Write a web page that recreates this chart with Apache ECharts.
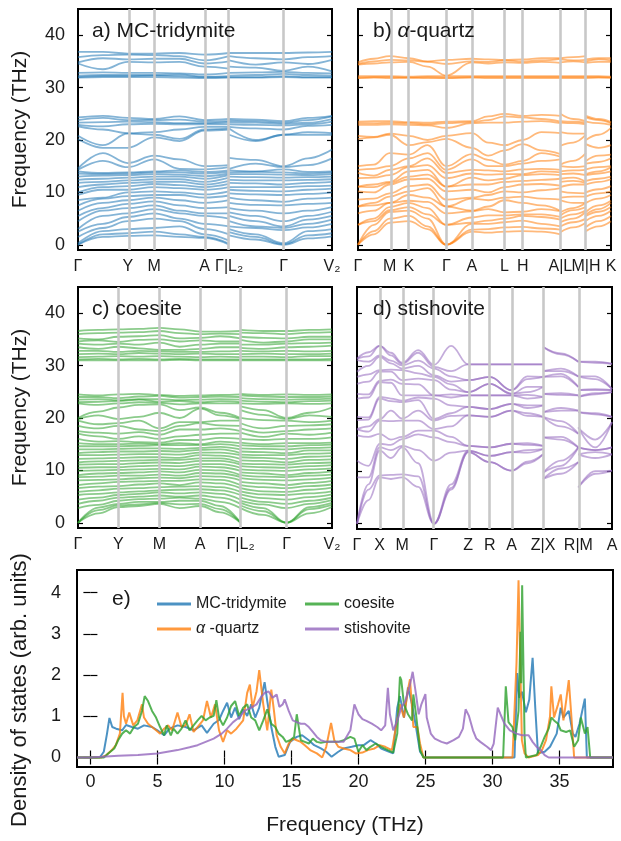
<!DOCTYPE html>
<html>
<head>
<meta charset="utf-8">
<script src="https://cdn.jsdelivr.net/npm/echarts@6/dist/echarts.min.js"></script>
<style>
  html, body { margin: 0; padding: 0; background: #fff; }
  #chart { width: 621px; height: 841px; }
</style>
</head>
<body>
<div id="chart"></div>
<script>
// ---------------------------------------------------------------
// Phonon dispersions (THz) of four SiO2 polymorphs + their DOS.
// Each *Freq array holds one row per sampled q-point along the
// path; row entries are the branch frequencies in ascending order.
// ---------------------------------------------------------------

// a) MC-tridymite : Γ–Y–M–A–Γ | L2–Γ–V2
const tridKnots = [0, 0.196, 0.30, 0.498, 0.595, 0.81, 1.0];
const tridKnotLabels = ['Γ', 'Y', 'M', 'A', 'Γ|L₂', 'Γ', 'V₂'];
const tridSegA = [0, 0.098, 0.196, 0.30, 0.40, 0.498, 0.595];
const tridSegB = [0.595, 0.70, 0.81, 0.905, 1.0];
const tridymiteFreq = [
  [0, 0, 0.3, 1.5, 2.5, 3.0, 4.5, 5.5, 6.5, 7.5, 8.5, 9.5, 10.0, 11.0, 11.8, 12.4, 13.0, 13.6, 14.0, 14.3, 14.6, 20.2, 20.8, 22.6, 22.9, 23.3, 23.8, 24.3, 31.9, 32.0, 32.3, 32.8, 34.6, 34.8, 35.8, 36.8],
  [1.5, 2.0, 2.6, 3.2, 4.0, 5.5, 6.5, 7.0, 8.0, 8.8, 9.0, 10.5, 11.0, 11.5, 12.0, 12.6, 13.2, 13.5, 13.7, 16.0, 17.5, 18.5, 19.0, 22.0, 22.6, 23.4, 24.2, 24.6, 32.0, 32.2, 32.4, 32.9, 33.5, 35.6, 36.2, 36.8],
  [1.7, 2.2, 3.0, 4.5, 5.3, 6.0, 7.0, 7.8, 8.5, 9.3, 10.0, 10.5, 11.2, 11.8, 12.3, 12.8, 13.3, 13.6, 13.8, 14.8, 15.6, 18.5, 21.2, 21.3, 23.0, 23.5, 23.8, 24.2, 32.0, 32.2, 32.4, 32.8, 34.9, 35.4, 36.3, 36.5],
  [1.8, 2.5, 3.2, 5.0, 6.0, 6.8, 7.5, 8.3, 9.0, 9.5, 10.2, 11.0, 11.6, 12.0, 12.5, 13.0, 13.5, 13.8, 14.0, 16.3, 17.0, 20.5, 21.0, 21.5, 23.1, 23.4, 23.8, 24.0, 32.0, 32.3, 32.4, 32.8, 34.8, 35.5, 36.2, 36.5],
  [1.5, 2.0, 3.5, 4.5, 5.0, 6.0, 6.5, 7.5, 8.5, 9.5, 10.0, 10.8, 11.4, 12.0, 12.5, 13.0, 13.4, 13.8, 14.2, 14.5, 16.3, 19.8, 20.2, 22.0, 23.0, 23.2, 23.9, 24.5, 31.9, 32.2, 32.5, 32.7, 34.9, 35.5, 36.0, 36.6],
  [1.3, 1.5, 2.0, 3.0, 4.0, 5.5, 6.0, 7.0, 8.0, 9.0, 9.6, 10.5, 11.0, 11.5, 12.0, 12.6, 13.1, 13.6, 13.9, 14.4, 15.0, 21.8, 22.0, 22.5, 23.0, 23.2, 23.5, 23.8, 31.8, 32.0, 32.1, 32.5, 34.0, 34.6, 35.2, 36.3],
  [0, 0.2, 0.8, 2.0, 3.5, 5.0, 6.0, 7.2, 8.5, 9.4, 10.2, 11.0, 11.6, 12.2, 12.8, 13.3, 13.6, 13.9, 14.2, 14.8, 15.2, 22.0, 22.2, 22.5, 23.0, 23.4, 23.6, 24.0, 31.9, 32.0, 32.2, 32.8, 33.6, 35.0, 36.0, 36.6],
  [1.8, 2.4, 3.0, 3.5, 4.5, 5.5, 6.2, 7.0, 8.0, 9.0, 9.8, 10.5, 11.0, 11.8, 12.4, 13.0, 13.5, 13.8, 14.2, 14.5, 16.6, 21.0, 22.2, 22.5, 23.0, 23.4, 23.7, 24.0, 31.9, 32.0, 32.3, 32.8, 34.0, 35.2, 36.0, 36.6],
  [1.0, 1.5, 2.0, 3.2, 3.5, 4.5, 5.5, 6.5, 7.6, 8.5, 9.6, 10.3, 11.0, 11.7, 12.3, 12.9, 13.5, 13.9, 14.0, 15.5, 16.2, 19.8, 20.0, 22.2, 22.9, 23.3, 23.6, 23.9, 31.9, 32.0, 32.4, 32.9, 33.8, 34.4, 35.6, 36.6],
  [0, 0.1, 0.3, 2.8, 3.2, 3.5, 4.5, 6.0, 7.5, 8.2, 9.5, 10.2, 11.0, 11.5, 12.3, 12.8, 13.4, 13.8, 14.4, 14.8, 15.0, 21.0, 21.0, 22.0, 22.8, 23.1, 23.3, 23.6, 32.0, 32.2, 32.6, 33.0, 33.2, 34.8, 35.4, 36.6],
  [1.2, 1.8, 2.6, 3.3, 4.0, 4.8, 5.5, 6.5, 7.8, 8.8, 9.7, 10.5, 11.2, 11.8, 12.4, 12.9, 13.3, 13.6, 13.9, 15.2, 16.5, 21.0, 21.5, 22.7, 23.0, 23.3, 23.8, 24.2, 31.9, 32.0, 32.4, 32.8, 34.0, 34.5, 35.8, 36.7],
  [1.6, 2.2, 3.0, 4.0, 4.8, 5.5, 6.3, 7.2, 8.0, 9.0, 10.0, 10.7, 11.3, 12.0, 12.5, 13.0, 13.5, 13.8, 14.0, 16.5, 18.2, 21.0, 21.3, 22.9, 23.5, 24.0, 24.5, 24.6, 31.9, 32.0, 32.3, 32.7, 33.1, 35.3, 36.0, 36.8]
];

// b) α-quartz : Γ–M–K–Γ–A–L–H–A | L–M | H–K
const quartzKnots = [0, 0.125, 0.201, 0.349, 0.450, 0.579, 0.651, 0.800, 0.901, 1.0];
const quartzKnotLabels = ['Γ', 'M', 'K', 'Γ', 'A', 'L', 'H', 'A|L', 'M|H', 'K'];
const quartzSegA = [0, 0.063, 0.125, 0.201, 0.275, 0.349, 0.450, 0.515, 0.579, 0.651, 0.725, 0.800];
const quartzSegB = [0.800, 0.851, 0.901];
const quartzSegC = [0.901, 0.951, 1.0];
const quartzFreq = [
  [0, 0, 0, 3.8, 3.8, 6.0, 7.3, 7.3, 8.6, 10.2, 11.1, 11.1, 12.7, 13.7, 14.3, 15.0, 20.2, 20.8, 22.9, 23.2, 23.5, 31.8, 31.9, 32.2, 34.4, 34.5, 34.8],
  [2.0, 2.6, 3.8, 4.5, 5.0, 6.5, 7.5, 8.0, 8.8, 10.0, 11.0, 11.5, 12.8, 13.2, 14.5, 15.3, 20.5, 20.6, 22.9, 23.2, 23.6, 31.9, 32.0, 32.2, 34.6, 35.0, 35.5],
  [4.2, 5.0, 6.3, 6.6, 7.2, 8.0, 8.0, 9.2, 9.8, 11.5, 11.8, 12.0, 13.3, 14.3, 15.0, 17.5, 21.0, 21.2, 23.0, 23.3, 23.6, 31.8, 32.0, 32.2, 34.8, 35.3, 36.0],
  [4.5, 5.5, 6.5, 7.2, 8.0, 8.4, 9.5, 10.2, 11.2, 12.5, 13.0, 14.0, 14.8, 15.0, 16.5, 17.2, 19.0, 20.8, 22.9, 23.2, 23.4, 31.9, 31.9, 32.1, 34.9, 35.2, 35.6],
  [3.0, 3.5, 5.0, 5.8, 7.0, 8.2, 9.0, 10.8, 11.5, 12.6, 13.4, 14.3, 15.2, 16.5, 17.5, 19.0, 19.6, 20.0, 22.8, 23.0, 23.3, 31.8, 32.0, 32.2, 34.0, 34.9, 35.0],
  [0, 0, 0, 3.8, 3.8, 6.0, 7.3, 7.3, 8.6, 10.2, 11.1, 11.1, 12.7, 13.7, 14.3, 15.0, 20.2, 20.8, 22.3, 23.2, 23.5, 31.8, 31.9, 32.2, 32.3, 34.5, 35.3],
  [2.5, 2.9, 4.0, 4.2, 5.2, 6.4, 6.5, 8.8, 9.0, 10.5, 11.5, 12.8, 13.6, 14.3, 16.3, 17.3, 18.5, 21.3, 23.2, 23.4, 23.6, 31.9, 32.0, 32.2, 34.8, 35.0, 35.5],
  [2.3, 3.0, 4.0, 4.6, 5.6, 6.8, 7.3, 8.5, 9.5, 10.0, 11.5, 12.3, 13.4, 14.2, 15.0, 16.2, 17.0, 19.5, 23.3, 23.8, 24.5, 31.8, 32.0, 32.2, 34.6, 34.9, 35.4],
  [2.5, 3.3, 4.3, 5.0, 5.6, 6.2, 8.5, 9.0, 10.2, 11.0, 12.0, 12.6, 13.5, 14.0, 15.0, 15.3, 18.0, 19.0, 23.3, 24.5, 25.0, 31.8, 32.0, 32.2, 34.8, 35.2, 35.3],
  [2.6, 3.4, 4.6, 5.5, 5.8, 6.3, 8.0, 9.2, 10.0, 11.5, 12.2, 13.3, 13.5, 14.4, 15.5, 16.0, 19.2, 20.0, 23.5, 24.3, 24.6, 31.8, 32.0, 32.2, 34.7, 35.0, 35.4],
  [2.5, 3.1, 4.0, 5.3, 5.8, 6.8, 7.5, 8.8, 10.4, 11.6, 12.4, 13.5, 14.0, 14.5, 16.0, 17.5, 18.0, 21.5, 23.6, 24.0, 24.8, 31.8, 32.0, 32.2, 34.9, 35.2, 35.6],
  [2.0, 2.9, 3.5, 4.8, 5.3, 6.4, 6.5, 8.6, 10.8, 11.3, 12.6, 13.3, 13.8, 14.3, 16.3, 16.8, 17.3, 21.3, 23.2, 23.5, 24.6, 31.8, 32.0, 32.2, 34.7, 35.5, 35.6],
  [2.4, 3.5, 4.3, 5.0, 5.6, 6.2, 8.5, 9.0, 10.2, 11.0, 12.0, 12.6, 13.5, 14.0, 15.0, 15.3, 18.9, 21.5, 23.3, 23.6, 25.0, 31.8, 32.0, 32.2, 34.8, 35.4, 35.6],
  [3.3, 4.3, 5.0, 5.8, 6.6, 7.0, 8.0, 9.2, 9.9, 11.5, 12.2, 12.8, 13.6, 14.2, 14.8, 16.0, 19.5, 21.2, 23.2, 23.5, 24.0, 31.8, 32.0, 32.2, 35.0, 35.2, 35.8],
  [4.2, 5.0, 6.3, 6.6, 7.2, 8.0, 8.0, 9.2, 9.8, 11.5, 11.8, 12.0, 13.3, 14.3, 15.0, 17.5, 21.0, 21.2, 23.0, 23.3, 23.6, 31.8, 32.0, 32.2, 34.8, 35.3, 36.0],
  [2.6, 3.4, 4.6, 5.5, 5.8, 6.3, 8.0, 9.2, 10.0, 11.5, 12.2, 13.3, 13.5, 14.4, 15.5, 16.0, 19.2, 20.0, 23.5, 24.3, 24.6, 31.8, 32.0, 32.2, 34.7, 35.0, 35.4],
  [3.5, 4.5, 5.5, 6.3, 6.8, 7.5, 8.8, 9.8, 10.6, 12.0, 12.6, 13.6, 14.0, 14.8, 15.8, 17.0, 18.5, 21.0, 23.2, 23.8, 24.0, 31.9, 32.0, 32.2, 34.9, 35.4, 35.6],
  [4.5, 5.5, 6.5, 7.2, 8.0, 8.4, 9.5, 10.2, 11.2, 12.5, 13.0, 14.0, 14.8, 15.0, 16.5, 17.2, 19.0, 22.3, 22.9, 23.2, 23.4, 31.9, 31.9, 32.1, 34.9, 35.2, 35.6]
];

// c) coesite : Γ–Y–M–A–Γ | L2–Γ–V2
const coesKnots = [0, 0.159, 0.321, 0.481, 0.640, 0.821, 1.0];
const coesKnotLabels = ['Γ', 'Y', 'M', 'A', 'Γ|L₂', 'Γ', 'V₂'];
const coesSegA = [0, 0.08, 0.159, 0.24, 0.321, 0.40, 0.481, 0.56, 0.640];
const coesSegB = [0.640, 0.73, 0.821, 0.91, 1.0];
const coesiteFreq = [
  [0, 0, 0, 2.8, 3.6, 4.4, 5.3, 5.9, 6.6, 7.2, 8.1, 8.7, 9.1, 9.9, 10.5, 11.1, 11.5, 12.2, 12.9, 13.3, 14.0, 14.6, 15.2, 16.0, 17.0, 17.5, 18.5, 19.5, 19.8, 20.0, 22.8, 23.0, 23.5, 24.0, 24.5, 31.0, 31.2, 31.6, 32.2, 32.8, 33.5, 34.2, 34.6, 35.2, 36.0, 36.6],
  [1.8, 2.4, 2.9, 3.4, 4.2, 4.8, 5.5, 6.2, 6.9, 7.5, 8.2, 8.8, 9.4, 10.0, 10.6, 11.2, 11.7, 12.3, 12.9, 13.5, 14.0, 14.6, 15.0, 15.5, 16.5, 17.2, 18.0, 18.8, 20.5, 21.2, 22.5, 23.1, 23.6, 24.0, 24.3, 31.0, 31.3, 31.7, 32.3, 32.8, 33.2, 34.0, 34.8, 35.0, 36.2, 36.8],
  [3.0, 3.3, 3.6, 4.2, 4.8, 5.3, 5.8, 6.5, 7.0, 7.8, 8.3, 9.0, 9.5, 10.1, 10.6, 11.2, 11.8, 12.4, 13.0, 13.6, 14.1, 14.6, 15.0, 15.6, 16.0, 17.0, 18.5, 19.0, 19.8, 22.0, 22.8, 23.2, 23.4, 23.8, 24.5, 31.0, 31.2, 31.8, 32.2, 32.6, 33.6, 34.2, 34.5, 35.5, 36.3, 36.9],
  [3.2, 3.5, 4.0, 4.5, 5.0, 5.5, 6.0, 6.6, 7.3, 7.9, 8.5, 9.0, 9.6, 10.2, 10.8, 11.4, 11.9, 12.5, 13.1, 13.6, 14.2, 14.7, 15.1, 15.4, 16.5, 17.3, 17.8, 19.5, 20.2, 22.5, 23.0, 23.5, 23.6, 24.1, 24.6, 31.0, 31.3, 31.7, 32.4, 32.8, 33.3, 34.0, 34.9, 35.6, 36.4, 37.0],
  [3.6, 3.8, 4.0, 4.6, 5.2, 5.8, 6.2, 6.8, 7.5, 8.0, 8.6, 9.2, 9.8, 10.3, 10.9, 11.5, 12.0, 12.5, 13.1, 13.7, 14.2, 14.8, 15.0, 15.3, 16.0, 16.8, 17.5, 18.0, 21.0, 22.6, 22.9, 23.1, 23.6, 24.2, 24.4, 31.0, 31.2, 31.8, 32.3, 32.7, 33.0, 34.4, 35.0, 35.8, 36.6, 37.2],
  [2.8, 3.5, 4.2, 4.8, 5.0, 5.6, 6.3, 6.9, 7.2, 8.0, 8.5, 9.0, 9.6, 10.2, 10.8, 11.4, 12.0, 12.4, 13.0, 13.6, 14.1, 14.8, 15.2, 15.8, 16.5, 17.8, 18.5, 19.2, 20.0, 21.5, 22.6, 23.2, 23.4, 23.9, 24.2, 31.1, 31.3, 31.7, 32.2, 32.6, 33.0, 33.6, 34.6, 35.2, 36.2, 36.9],
  [3.2, 3.6, 4.2, 4.6, 5.2, 5.8, 6.4, 7.0, 7.7, 8.3, 8.9, 9.5, 10.1, 10.7, 11.2, 11.8, 12.3, 12.9, 13.4, 13.9, 14.3, 14.8, 15.0, 15.8, 16.8, 17.8, 19.0, 19.2, 21.8, 22.0, 22.8, 23.0, 23.5, 24.0, 24.3, 31.0, 31.2, 31.6, 32.3, 32.6, 33.2, 34.0, 34.8, 35.3, 36.0, 36.5],
  [2.0, 2.6, 3.2, 4.0, 4.8, 5.5, 6.2, 6.8, 7.5, 8.2, 8.8, 9.4, 10.0, 10.6, 11.2, 11.8, 12.3, 12.8, 13.4, 14.0, 14.5, 15.0, 15.5, 16.2, 17.0, 18.0, 18.6, 19.5, 20.5, 21.0, 22.8, 23.2, 23.6, 24.1, 24.4, 31.0, 31.2, 31.7, 32.2, 32.7, 33.5, 34.2, 34.6, 35.6, 36.1, 36.5],
  [0, 0, 0, 2.8, 3.6, 4.4, 5.3, 5.9, 6.6, 7.2, 8.1, 8.7, 9.1, 9.9, 10.5, 11.1, 11.5, 12.2, 12.9, 13.3, 14.0, 14.6, 15.2, 16.0, 17.0, 17.5, 18.5, 19.5, 19.8, 20.0, 22.8, 23.0, 23.5, 24.0, 24.5, 31.0, 31.2, 31.6, 32.2, 32.8, 33.5, 34.2, 34.6, 35.2, 36.0, 36.6],
  [2.8, 3.3, 3.8, 4.2, 4.8, 5.4, 6.0, 6.6, 7.2, 7.8, 8.5, 9.1, 9.6, 10.2, 10.8, 11.3, 11.9, 12.5, 13.0, 13.6, 14.2, 14.8, 15.3, 16.0, 17.2, 18.0, 19.0, 20.0, 21.5, 22.2, 22.8, 23.3, 23.8, 24.3, 24.6, 31.0, 31.2, 31.7, 32.2, 32.8, 33.4, 34.0, 34.9, 35.5, 36.3, 36.8],
  [1.5, 2.2, 2.8, 3.5, 4.0, 4.7, 5.4, 6.0, 6.8, 7.5, 8.2, 8.8, 9.4, 10.0, 10.6, 11.2, 11.8, 12.4, 12.9, 13.5, 14.1, 14.6, 15.0, 15.8, 16.4, 17.2, 18.0, 19.6, 20.6, 21.5, 22.7, 23.1, 23.6, 24.1, 24.4, 31.0, 31.2, 31.7, 32.3, 32.7, 33.2, 34.0, 34.4, 35.3, 36.2, 36.6],
  [0, 0, 0, 2.8, 3.6, 4.4, 5.3, 5.9, 6.6, 7.2, 8.1, 8.7, 9.1, 9.9, 10.5, 11.1, 11.5, 12.2, 12.9, 13.3, 14.0, 14.6, 15.2, 16.0, 17.0, 17.5, 18.5, 19.5, 19.8, 20.0, 22.8, 23.0, 23.5, 24.0, 24.5, 31.0, 31.2, 31.6, 32.2, 32.8, 33.5, 34.2, 34.6, 35.2, 36.0, 36.6],
  [1.8, 2.6, 3.0, 3.6, 4.2, 4.9, 5.6, 6.3, 7.0, 7.6, 8.3, 9.0, 9.5, 10.2, 10.8, 11.4, 12.0, 12.6, 13.2, 13.8, 14.3, 14.8, 15.2, 16.0, 16.8, 17.8, 18.6, 19.2, 20.5, 21.0, 22.7, 23.2, 23.6, 24.0, 24.4, 31.0, 31.2, 31.8, 32.2, 32.7, 33.6, 34.3, 35.0, 35.5, 36.3, 36.8],
  [3.0, 3.4, 3.8, 4.3, 4.8, 5.4, 6.0, 6.7, 7.3, 8.0, 8.6, 9.2, 9.8, 10.4, 11.0, 11.5, 12.1, 12.7, 13.3, 13.8, 14.4, 14.9, 15.3, 16.3, 17.2, 18.0, 18.8, 19.5, 20.2, 22.0, 22.8, 23.3, 23.7, 24.1, 24.5, 31.0, 31.3, 31.8, 32.3, 32.8, 33.8, 34.4, 35.0, 35.5, 36.4, 36.9]
];

// d) stishovite : Γ–X–M–Γ–Z–R–A–Z | X–R | M–A
const stishKnots = [0, 0.089, 0.177, 0.302, 0.436, 0.521, 0.606, 0.730, 0.868, 1.0];
const stishKnotLabels = ['Γ', 'X', 'M', 'Γ', 'Z', 'R', 'A', 'Z|X', 'R|M', 'A'];
const stishSegA = [0, 0.045, 0.089, 0.133, 0.177, 0.24, 0.302, 0.369, 0.436, 0.521, 0.606, 0.668, 0.730];
const stishSegB = [0.730, 0.80, 0.868];
const stishSegC = [0.868, 0.934, 1.0];
const stishoviteFreq = [
  [0, 0, 0, 8.8, 12.0, 16.8, 18.0, 18.0, 19.7, 20.3, 23.8, 24.7, 26.6, 27.9, 28.9, 31.1, 31.4, 31.4],
  [4.5, 6.5, 7.5, 8.8, 11.0, 16.5, 17.5, 18.5, 19.8, 20.2, 24.0, 24.6, 27.0, 28.4, 30.0, 30.8, 31.8, 32.6],
  [8.8, 9.2, 13.9, 14.5, 15.2, 17.1, 19.6, 19.9, 23.8, 24.1, 26.9, 27.2, 28.9, 29.2, 31.7, 32.0, 33.8, 33.8],
  [8.5, 9.3, 12.5, 14.0, 15.0, 16.0, 19.5, 21.5, 23.3, 23.8, 26.8, 27.4, 28.9, 29.3, 30.5, 31.0, 32.0, 32.5],
  [8.8, 9.4, 14.5, 14.8, 16.1, 16.5, 19.6, 20.0, 23.1, 23.4, 24.4, 26.6, 27.3, 29.2, 29.5, 30.1, 30.4, 30.6],
  [7.0, 9.0, 11.5, 14.0, 17.0, 17.7, 19.6, 21.5, 23.5, 24.0, 24.4, 26.5, 27.6, 28.6, 30.0, 31.0, 32.5, 33.0],
  [0, 0, 0, 12.0, 16.4, 17.7, 18.0, 19.6, 19.9, 23.8, 24.4, 24.4, 27.3, 27.9, 28.2, 29.5, 29.8, 30.2],
  [6.5, 6.8, 7.5, 13.5, 15.5, 16.5, 18.5, 20.5, 21.0, 22.5, 24.0, 24.6, 25.5, 26.5, 27.0, 28.0, 29.0, 33.8],
  [13.6, 13.6, 13.9, 13.9, 14.8, 14.8, 20.6, 20.6, 22.2, 22.2, 24.4, 24.4, 25.0, 25.0, 27.3, 27.3, 30.3, 30.3],
  [11.7, 11.7, 12.9, 12.9, 14.5, 14.5, 20.3, 20.3, 21.8, 21.8, 24.4, 24.4, 26.6, 26.6, 27.9, 27.9, 30.3, 30.3],
  [10.1, 10.1, 13.6, 13.6, 15.2, 15.2, 21.5, 21.5, 22.8, 22.8, 24.4, 24.4, 24.7, 24.7, 25.4, 25.4, 30.3, 30.3],
  [11.5, 11.8, 13.5, 14.0, 15.0, 15.3, 20.5, 21.0, 22.0, 22.5, 23.8, 24.5, 25.0, 26.0, 27.5, 28.0, 30.3, 30.3],
  [13.2, 13.2, 14.2, 14.2, 14.8, 14.8, 20.3, 20.3, 22.5, 22.5, 24.1, 24.1, 26.0, 26.0, 27.9, 27.9, 30.3, 30.3],
  [8.5, 8.5, 9.7, 9.7, 16.4, 16.4, 20.3, 20.3, 21.2, 21.2, 24.7, 24.7, 27.9, 27.9, 29.0, 29.0, 33.6, 33.6],
  [9.5, 10.5, 11.0, 12.0, 16.0, 16.5, 18.5, 19.5, 21.5, 22.0, 24.5, 24.8, 28.0, 28.5, 29.0, 29.5, 32.2, 32.4],
  [11.7, 11.7, 14.5, 14.5, 14.5, 14.5, 17.1, 17.1, 21.5, 21.5, 24.4, 24.4, 26.0, 26.0, 28.0, 28.0, 30.8, 30.8],
  [6.9, 6.9, 13.2, 13.2, 14.5, 14.5, 18.3, 18.3, 21.2, 21.2, 24.1, 24.1, 25.4, 25.4, 28.0, 28.0, 30.8, 30.8],
  [9.5, 10.0, 12.5, 13.6, 14.0, 14.0, 14.5, 16.0, 20.8, 21.0, 24.6, 24.8, 25.4, 25.6, 27.5, 28.0, 30.6, 30.8],
  [10.1, 10.1, 13.2, 13.2, 14.5, 14.5, 19.3, 19.3, 20.3, 20.3, 25.0, 25.0, 25.4, 25.4, 25.6, 25.6, 30.4, 30.4]
];

// e) phonon density of states, [frequency (THz), DOS (arb. units)]
const dosTridymite = [[-1,0],[0.7,0],[0.74,0.02],[1.0,0.14],[1.24,0.58],[1.42,0.96],[1.63,0.74],[1.92,0.70],[2.37,0.66],[2.66,0.79],[3.1,0.74],[3.55,0.70],[4.0,0.78],[4.6,0.74],[5.0,0.66],[5.5,0.54],[5.9,0.70],[6.5,0.78],[7.1,0.74],[7.7,0.66],[8.3,0.78],[8.7,0.60],[9.2,0.82],[9.6,0.91],[9.9,1.13],[10.2,1.33],[10.5,0.97],[10.8,1.21],[11.1,0.93],[11.4,1.17],[11.7,1.01],[12.0,1.29],[12.3,0.97],[12.6,1.21],[13.0,1.83],[13.2,1.37],[13.5,0.74],[13.8,0.26],[14.05,0.02],[14.5,0.06],[14.9,0.38],[15.4,0.50],[15.8,0.54],[16.3,0.42],[16.7,0.30],[17.2,0.22],[17.6,0.14],[18.0,0.02],[18.5,0.14],[18.9,0.22],[19.5,0.26],[20.0,0.30],[20.4,0.30],[20.9,0.42],[21.3,0.34],[21.7,0.22],[22.3,0.14],[22.6,0.10],[22.9,1.21],[23.1,1.49],[23.4,0.97],[23.7,1.70],[24.0,1.29],[24.3,0.74],[24.6,0.14],[24.9,0],[31.65,0],[31.85,2.05],[32.0,1.45],[32.2,1.6],[32.5,1.1],[32.75,1.4],[33.0,2.42],[33.2,1.2],[33.4,0.10],[33.9,0.14],[34.3,0.26],[34.8,0.58],[35.1,1.21],[35.3,0.97],[35.7,1.13],[36.0,0.58],[36.2,0.50],[36.5,0.82],[36.9,1.43],[37.05,0],[39,0]];
const dosQuartz = [[-1,0],[0.8,0],[1.2,0.06],[1.6,0.18],[1.9,0.30],[2.2,0.58],[2.4,1.57],[2.5,1.0],[2.66,0.82],[2.9,1.09],[3.2,0.78],[3.5,0.90],[3.85,1.29],[4.0,0.97],[4.3,0.82],[4.6,0.74],[4.9,0.66],[5.2,0.58],[5.5,0.70],[5.8,0.78],[6.1,0.66],[6.5,1.09],[6.8,0.74],[7.1,0.78],[7.4,1.05],[7.7,0.62],[8.1,0.78],[8.4,0.90],[8.7,1.37],[9.0,0.97],[9.3,1.29],[9.6,0.66],[9.9,0.38],[10.2,0.66],[10.5,0.58],[10.9,0.70],[11.4,0.90],[11.7,1.57],[11.9,1.77],[12.1,1.21],[12.4,1.61],[12.6,2.12],[12.9,1.29],[13.2,0.66],[13.5,1.65],[13.7,1.13],[13.9,0.54],[14.2,0.26],[14.5,0.10],[14.8,0.34],[15.1,0.46],[15.4,0.42],[15.7,0.38],[16.0,0.30],[16.4,0.18],[16.9,0.10],[17.3,0],[17.6,0.26],[17.96,0.84],[18.2,0.42],[18.5,0.26],[18.9,0.22],[19.4,0.18],[19.8,0.10],[20.3,0.12],[20.7,0.18],[21.2,0.22],[21.6,0.30],[22.0,0.26],[22.5,0.18],[22.8,0.74],[23.1,1.29],[23.4,0.97],[23.7,1.65],[23.85,1.90],[24.1,0.74],[24.4,0.74],[24.6,0.34],[24.85,0],[31.5,0],[31.8,2.3],[31.95,4.3],[32.2,0.42],[32.4,0.10],[32.7,0],[33.4,0.06],[33.7,0.18],[34.0,0.42],[34.3,1.0],[34.4,1.73],[34.6,0.97],[34.9,1.29],[35.1,1.53],[35.3,0.90],[35.5,1.37],[35.7,1.88],[35.9,0.97],[36.1,0],[39,0]];
const dosCoesite = [[-1,0],[1.0,0],[1.33,0.10],[1.78,0.22],[2.07,0.42],[2.37,0.58],[2.66,0.66],[2.96,0.58],[3.25,0.74],[3.55,0.82],[3.85,1.13],[4.05,1.49],[4.3,1.37],[4.6,1.13],[4.9,0.97],[5.2,0.74],[5.5,0.54],[5.7,0.78],[6.0,0.54],[6.2,0.70],[6.5,0.58],[6.8,0.70],[7.1,0.90],[7.4,0.66],[7.7,0.78],[8.0,0.90],[8.3,1.01],[8.6,0.90],[8.9,0.97],[9.2,1.01],[9.4,1.39],[9.6,0.97],[9.9,0.78],[10.2,0.97],[10.5,1.25],[10.8,1.37],[11.1,1.01],[11.4,1.21],[11.7,1.29],[12.0,0.97],[12.3,0.90],[12.6,0.66],[12.9,0.90],[13.2,1.17],[13.5,0.82],[13.8,0.74],[14.05,0.58],[14.35,0.50],[14.6,0.38],[14.9,0.42],[15.2,0.50],[15.4,1.05],[15.7,0.42],[16.0,0.38],[16.3,0.34],[16.6,0.46],[16.9,0.38],[17.2,0.36],[17.6,0.38],[18.0,0.38],[18.5,0.38],[18.9,0.42],[19.4,0.50],[19.7,0.46],[20.0,0.14],[20.3,0.30],[20.6,0.18],[20.9,0.26],[21.3,0.34],[21.7,0.26],[22.2,0.18],[22.6,0.12],[22.9,0.58],[23.1,1.96],[23.2,1.88],[23.4,1.29],[23.7,1.05],[24.0,0.90],[24.1,1.53],[24.3,1.05],[24.6,0.18],[24.85,0],[30.8,0],[31.0,1.73],[31.2,0.86],[31.5,0.74],[31.7,0.42],[31.8,0.38],[31.95,1.13],[32.1,3.05],[32.15,1.8],[32.22,4.18],[32.4,0.5],[32.5,0],[33.3,0.06],[33.6,0.26],[33.9,0.50],[34.2,0.70],[34.4,0.97],[34.6,0.90],[34.9,0.82],[35.1,0.66],[35.5,0.62],[35.8,0.66],[36.1,0.26],[36.4,0.42],[36.6,0.97],[36.9,0.58],[37.1,0.74],[37.3,0],[39,0]];
const dosStishovite = [[-1,0],[0,0],[2.07,0.04],[3.55,0.06],[5.0,0.10],[6.5,0.18],[7.4,0.25],[8.0,0.30],[8.6,0.38],[9.2,0.46],[9.8,0.58],[10.2,0.70],[10.65,0.86],[11.1,0.97],[11.5,1.13],[12.0,1.21],[12.4,1.29],[12.7,1.45],[13.0,1.57],[13.3,1.60],[13.6,1.45],[13.75,1.49],[13.9,1.53],[14.1,1.23],[14.35,1.29],[14.5,1.41],[14.8,1.13],[15.1,0.90],[15.4,0.86],[15.7,0.82],[16.0,0.82],[16.3,0.74],[16.6,0.62],[16.9,0.50],[17.2,0.42],[17.6,0.38],[18.0,0.38],[18.5,0.38],[18.9,0.38],[19.4,0.66],[19.7,1.29],[20.0,1.05],[20.3,0.93],[20.6,0.89],[21.0,0.82],[21.4,0.74],[21.7,0.66],[22.0,0.78],[22.2,1.69],[22.35,1.05],[22.6,0.66],[22.9,0.89],[23.2,1.21],[23.5,1.37],[23.8,1.69],[24.05,2.08],[24.3,1.53],[24.5,1.05],[24.7,1.29],[25.0,1.54],[25.1,0.97],[25.4,0.58],[25.7,0.46],[26.2,0.38],[26.6,0.34],[27.1,0.42],[27.5,0.50],[27.8,0.70],[28.0,1.17],[28.25,1.01],[28.55,0.66],[28.8,0.46],[29.1,0.38],[29.6,0.26],[29.9,0.18],[30.1,0.34],[30.4,1.21],[30.6,1.05],[30.9,0.82],[31.3,0.66],[31.8,0.58],[32.2,0.54],[32.7,0.54],[33.0,0.38],[33.3,0.26],[33.6,0.18],[33.9,0.06],[34.2,0],[39,0]];

const freqTicks = [0, 10, 20, 30, 40];
const dosXTicks = [0, 5, 10, 15, 20, 25, 30, 35];
const dosYTicks = [0, 1, 2, 3, 4];

// ---------------------------------------------------------------
const FONT = '"Liberation Sans", Arial, Helvetica, sans-serif';
const INK = '#1a1a1a';
const BLUE = '#1f77b4', ORANGE = '#ff7f0e', GREEN = '#2ca02c', PURPLE = '#9467bd';
function rgba(hex, a) {
  const n = parseInt(hex.slice(1), 16);
  return `rgba(${n >> 16},${(n >> 8) & 255},${n & 255},${a})`;
}

const bandPanels = [
  { knots: tridKnots, labels: tridKnotLabels, segs: [tridSegA, tridSegB], freq: tridymiteFreq, color: BLUE, yLabels: true,
    grid: { left: 78, top: 9, width: 254, height: 241 } },
  { knots: quartzKnots, labels: quartzKnotLabels, segs: [quartzSegA, quartzSegB, quartzSegC], freq: quartzFreq, color: ORANGE, yLabels: false,
    grid: { left: 358, top: 9, width: 253, height: 241 } },
  { knots: coesKnots, labels: coesKnotLabels, segs: [coesSegA, coesSegB], freq: coesiteFreq, color: GREEN, yLabels: true,
    grid: { left: 78, top: 287, width: 254, height: 241 } },
  { knots: stishKnots, labels: stishKnotLabels, segs: [stishSegA, stishSegB, stishSegC], freq: stishoviteFreq, color: PURPLE, yLabels: false,
    grid: { left: 357, top: 287, width: 255, height: 242 } }
];
const dosGrid = { left: 77, top: 570, width: 536, height: 197 };

const grid = [], xAxis = [], yAxis = [], series = [];
const frame = { show: true, borderColor: '#000', borderWidth: 2, backgroundColor: 'rgba(0,0,0,0)' };
const labelStyle = { color: INK, fontFamily: FONT };
const tickStyle = { color: '#000', width: 1.2 };

bandPanels.forEach((p, gi) => {
  grid.push(Object.assign({}, frame, p.grid));
  const xi = xAxis.length;
  xAxis.push({
    gridIndex: gi, type: 'value', min: 0, max: 1,
    axisLine: { show: false }, axisTick: { show: false }, splitLine: { show: false },
    axisLabel: Object.assign({
      customValues: p.knots, fontSize: 16, margin: 9, hideOverlap: false,
      formatter: v => {
        const k = p.knots.findIndex(t => Math.abs(t - v) < 1e-6);
        return k >= 0 ? p.labels[k] : '';
      }
    }, labelStyle)
  });
  const yl = yAxis.length;
  yAxis.push({
    gridIndex: gi, type: 'value', min: -1, max: 45, position: 'left',
    axisLine: { show: false }, splitLine: { show: false },
    axisTick: { show: true, inside: true, length: 5, customValues: freqTicks, lineStyle: tickStyle },
    axisLabel: Object.assign({ show: p.yLabels, customValues: freqTicks, fontSize: 18, margin: 13 }, labelStyle),
    name: p.yLabels ? 'Frequency (THz)' : '', nameLocation: 'middle', nameGap: 47,
    nameTextStyle: { fontSize: 21, color: INK, fontFamily: FONT }
  });
  yAxis.push({
    gridIndex: gi, type: 'value', min: -1, max: 45, position: 'right',
    axisLine: { show: false }, splitLine: { show: false },
    axisTick: { show: true, inside: true, length: 5, customValues: freqTicks, lineStyle: tickStyle },
    axisLabel: { show: false, customValues: freqTicks }
  });
  // high-symmetry guide lines
  series.push({
    type: 'line', xAxisIndex: xi, yAxisIndex: yl, data: [], silent: true, z: 1,
    markLine: {
      silent: true, symbol: ['none', 'none'], label: { show: false },
      lineStyle: { color: '#c8c8c8', width: 2.6, type: 'solid' },
      data: p.knots.slice(1, -1).map(v => ({ xAxis: v }))
    }
  });
  // one line per branch and path piece
  const nb = Math.min(...p.freq.map(r => r.length));
  for (let b = 0; b < nb; b++) {
    let row = 0;
    p.segs.forEach(seg => {
      const data = seg.map((x, k) => [x, p.freq[row + k][b]]);
      row += seg.length;
      series.push({
        type: 'line', xAxisIndex: xi, yAxisIndex: yl, data, smooth: 0.4, smoothMonotone: 'x',
        showSymbol: false, symbol: 'none', silent: true, z: 2,
        lineStyle: { color: rgba(p.color, 0.55), width: 1.8 }
      });
    });
  }
});

// DOS panel
grid.push(Object.assign({}, frame, dosGrid));
const dx = xAxis.length, dy = yAxis.length;
xAxis.push({
  gridIndex: 4, type: 'value', min: -1, max: 39, position: 'bottom',
  axisLine: { show: false }, splitLine: { show: false },
  axisTick: { show: true, inside: true, length: 7, customValues: dosXTicks, lineStyle: tickStyle },
  axisLabel: Object.assign({ customValues: dosXTicks, fontSize: 18, margin: 6 }, labelStyle),
  name: 'Frequency (THz)', nameLocation: 'middle', nameGap: 48,
  nameTextStyle: { fontSize: 21, color: INK, fontFamily: FONT }
});
xAxis.push({
  gridIndex: 4, type: 'value', min: -1, max: 39, position: 'top',
  axisLine: { show: false }, splitLine: { show: false },
  axisTick: { show: true, inside: true, length: 7, customValues: dosXTicks, lineStyle: tickStyle },
  axisLabel: { show: false, customValues: dosXTicks }
});
yAxis.push({
  gridIndex: 4, type: 'value', min: -0.23, max: 4.55, position: 'left',
  axisLine: { show: false }, splitLine: { show: false },
  axisTick: { show: true, inside: true, length: 7, customValues: dosYTicks, lineStyle: tickStyle },
  axisLabel: Object.assign({ customValues: dosYTicks, fontSize: 18, margin: 16 }, labelStyle)
});
yAxis.push({
  gridIndex: 4, type: 'value', min: -0.23, max: 4.55, position: 'right',
  axisLine: { show: false }, splitLine: { show: false },
  axisTick: { show: true, inside: true, length: 7, customValues: dosYTicks, lineStyle: tickStyle },
  axisLabel: { show: false, customValues: dosYTicks }
});

[
  ['MC-tridymite', dosTridymite, BLUE],
  ['α-quartz', dosQuartz, ORANGE],
  ['coesite', dosCoesite, GREEN],
  ['stishovite', dosStishovite, PURPLE]
].forEach(([name, data, c], i) => {
  series.push({
    name, type: 'line', xAxisIndex: dx, yAxisIndex: dy, data,
    showSymbol: false, symbol: 'none', z: 3 + i,
    lineStyle: { color: rgba(c, 0.8), width: 2 },
    itemStyle: { color: rgba(c, 0.8) }
  });
});

const legendBase = {
  orient: 'vertical', top: 591, icon: 'rect', itemWidth: 34, itemHeight: 3, itemGap: 9,
  selectedMode: false,
  textStyle: { fontSize: 16, color: INK, fontFamily: FONT, rich: { i: { fontStyle: 'italic', fontSize: 16, color: INK, fontFamily: FONT } } },
  formatter: n => n === 'α-quartz' ? '{i|α} -quartz' : n
};

const panelTitle = (text, left, top) => ({
  text, left, top, padding: 0,
  textStyle: {
    fontSize: 21, fontWeight: 'normal', color: INK, fontFamily: FONT,
    rich: {
      n: { fontSize: 21, color: INK, fontFamily: FONT },
      i: { fontSize: 21, color: INK, fontFamily: FONT, fontStyle: 'italic' }
    }
  }
});

const option = {
  animation: false,
  backgroundColor: '#fff',
  title: [
    panelTitle('a) MC-tridymite', 92, 21),
    panelTitle('{n|b) }{i|α}{n|-quartz}', 373, 21),
    panelTitle('c) coesite', 92, 299),
    panelTitle('d) stishovite', 373, 299),
    panelTitle('e)', 112, 589)
  ],
  legend: [
    Object.assign({ left: 152, data: ['MC-tridymite', 'α-quartz'] }, legendBase),
    Object.assign({ left: 300, data: ['coesite', 'stishovite'] }, legendBase)
  ],
  graphic: [{
    type: 'text', x: 20, y: 690, rotation: Math.PI / 2, silent: true,
    style: {
      text: 'Density of states (arb. units)', fill: INK,
      font: '22px "Liberation Sans", Arial, sans-serif',
      textAlign: 'center', textVerticalAlign: 'middle'
    }
  }],
  grid, xAxis, yAxis, series
};

const chart = echarts.init(document.getElementById('chart'));
chart.setOption(option);
</script>
</body>
</html>
